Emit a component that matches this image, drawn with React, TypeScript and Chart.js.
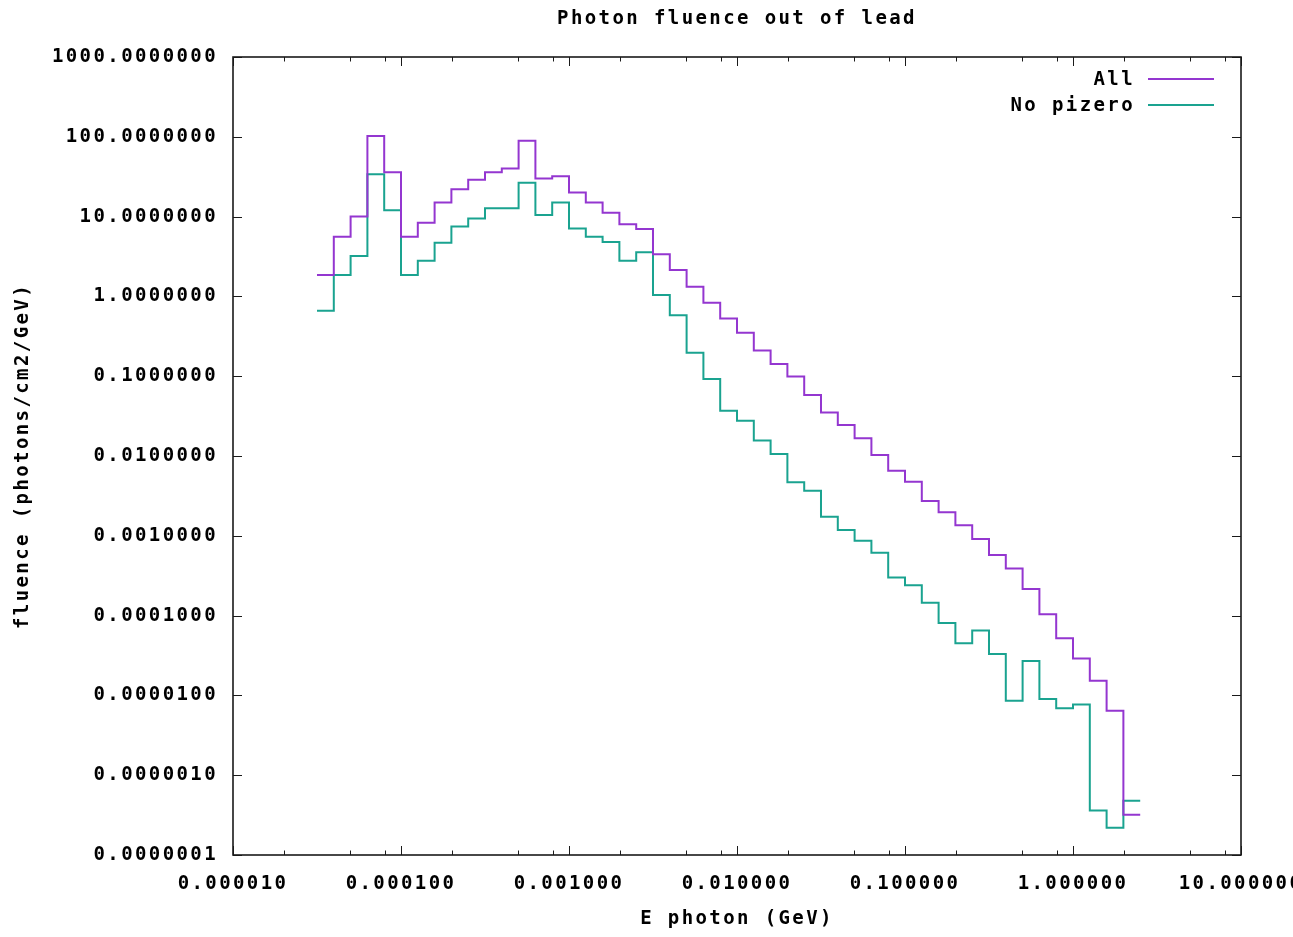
import React, { useEffect, useRef } from 'react';
import { Chart, registerables } from 'chart.js';

Chart.register(...registerables);

// Lower bin edges (GeV), 10 bins per decade; last entry is the upper edge of the last bin
const binEdges = [
  3.162e-5, 3.981e-5, 5.012e-5, 6.31e-5, 7.943e-5, 1.0e-4, 1.259e-4, 1.585e-4, 1.995e-4, 2.512e-4,
  3.162e-4, 3.981e-4, 5.012e-4, 6.31e-4, 7.943e-4, 1.0e-3, 1.259e-3, 1.585e-3, 1.995e-3, 2.512e-3,
  3.162e-3, 3.981e-3, 5.012e-3, 6.31e-3, 7.943e-3, 1.0e-2, 1.259e-2, 1.585e-2, 1.995e-2, 2.512e-2,
  3.162e-2, 3.981e-2, 5.012e-2, 6.31e-2, 7.943e-2, 0.1, 0.1259, 0.1585, 0.1995, 0.2512,
  0.3162, 0.3981, 0.5012, 0.631, 0.7943, 1.0, 1.259, 1.585, 1.995, 2.512,
];

// "All" fluence per bin
const allValues = [
  1.85, 5.6, 10, 102, 36, 5.6, 8.4, 15, 22, 29,
  36, 40, 89, 30, 32, 20, 15, 11.2, 8.0, 7.0,
  3.37, 2.14, 1.32, 0.83, 0.53, 0.35, 0.21, 0.142, 0.099, 0.058,
  0.035, 0.0244, 0.0167, 0.0103, 0.00655, 0.00476, 0.00273, 0.00197, 0.00136, 0.00091,
  0.000574, 0.00039, 0.000215, 0.000104, 5.2e-5, 2.9e-5, 1.53e-5, 6.4e-6, 3.2e-7,
];

// "No pizero" fluence per bin
const noPizeroValues = [
  0.66, 1.85, 3.2, 34, 12, 1.85, 2.8, 4.7, 7.5, 9.5,
  12.7, 12.7, 26.6, 10.5, 15, 7.1, 5.6, 4.8, 2.8, 3.57,
  1.04, 0.58, 0.197, 0.092, 0.037, 0.0277, 0.0156, 0.0106, 0.0047, 0.00367,
  0.00173, 0.00118, 0.00087, 0.000614, 0.0003, 0.00024, 0.000145, 8.1e-5, 4.5e-5, 6.5e-5,
  3.3e-5, 8.6e-6, 2.7e-5, 9.0e-6, 6.9e-6, 7.7e-6, 3.6e-7, 2.2e-7, 4.8e-7,
];

const xMajorTicks = [1e-5, 1e-4, 1e-3, 1e-2, 1e-1, 1, 10];
const xMinorTicks = [
  2e-5, 5e-5, 8e-5, 2e-4, 5e-4, 8e-4, 2e-3, 5e-3, 8e-3,
  2e-2, 5e-2, 8e-2, 0.2, 0.5, 0.8, 2, 5, 8,
];
const yMajorTicks = [1e-7, 1e-6, 1e-5, 1e-4, 1e-3, 1e-2, 1e-1, 1, 10, 100, 1000];

const seriesNames = ['All', 'No pizero'];
const PURPLE = '#9436d0';
const TEAL = '#1aa390';
const FONT = { family: "'DejaVu Sans Mono', monospace", size: 19, weight: 'bold' as const };

function toSteps(values: number[]) {
  const pts = values.map((v, i) => ({ x: binEdges[i], y: v }));
  pts.push({ x: binEdges[values.length], y: values[values.length - 1] });
  return pts;
}

const framePlugin = {
  id: 'gnuFrame',
  beforeDraw(chart: any) {
    chart.ctx.letterSpacing = '2.4px';
  },
  afterDatasetsDraw(chart: any) {
    const { ctx, chartArea: a, scales } = chart;
    ctx.save();
    ctx.strokeStyle = '#1a1a1a';
    ctx.lineWidth = 1;
    const MAJ = 9;
    const MIN = 4.5;
    ctx.beginPath();
    xMajorTicks.forEach((v) => {
      const px = Math.round(scales.x.getPixelForValue(v)) + 0.5;
      ctx.moveTo(px, a.bottom);
      ctx.lineTo(px, a.bottom - MAJ);
      ctx.moveTo(px, a.top);
      ctx.lineTo(px, a.top + MAJ);
    });
    xMinorTicks.forEach((v) => {
      const px = Math.round(scales.x.getPixelForValue(v)) + 0.5;
      ctx.moveTo(px, a.bottom);
      ctx.lineTo(px, a.bottom - MIN);
      ctx.moveTo(px, a.top);
      ctx.lineTo(px, a.top + MIN);
    });
    yMajorTicks.forEach((v) => {
      const py = Math.round(scales.y.getPixelForValue(v)) + 0.5;
      ctx.moveTo(a.left, py);
      ctx.lineTo(a.left + MAJ, py);
      ctx.moveTo(a.right, py);
      ctx.lineTo(a.right - MAJ, py);
    });
    ctx.stroke();
    ctx.lineWidth = 1.6;
    ctx.strokeRect(a.left, a.top, a.right - a.left, a.bottom - a.top);

    // key (gnuplot style: text right-aligned, sample line on the right)
    ctx.font = `bold ${FONT.size}px ${FONT.family}`;
    ctx.fillStyle = '#000';
    ctx.textAlign = 'right';
    ctx.textBaseline = 'middle';
    const colors = [PURPLE, TEAL];
    seriesNames.forEach((name, i) => {
      const y = a.top + 22 + i * 26;
      ctx.fillText(name, a.right - 106, y + 1);
      ctx.strokeStyle = colors[i];
      ctx.lineWidth = 2;
      ctx.beginPath();
      ctx.moveTo(a.right - 93, y);
      ctx.lineTo(a.right - 27, y);
      ctx.stroke();
    });
    ctx.restore();
  },
};

export default function App() {
  const ref = useRef<HTMLCanvasElement>(null);

  useEffect(() => {
    document.body.style.margin = '0';
    const canvas = ref.current;
    if (!canvas) return;
    const chart = new Chart(canvas, {
      type: 'line',
      data: {
        datasets: [
          {
            label: seriesNames[0],
            data: toSteps(allValues),
            borderColor: PURPLE,
            borderWidth: 2,
            pointRadius: 0,
            stepped: true,
            fill: false,
          },
          {
            label: seriesNames[1],
            data: toSteps(noPizeroValues),
            borderColor: TEAL,
            borderWidth: 2,
            pointRadius: 0,
            stepped: true,
            fill: false,
          },
        ],
      },
      options: {
        responsive: false,
        animation: false,
        devicePixelRatio: 1,
        layout: { padding: { top: 0, right: 52, left: 0, bottom: 0 } },
        plugins: {
          legend: { display: false },
          tooltip: { enabled: false },
          title: {
            display: true,
            text: 'Photon fluence out of lead',
            fullSize: false,
            font: FONT,
            color: '#000',
            padding: { top: 8, bottom: 26.2 },
          },
        },
        scales: {
          x: {
            type: 'logarithmic',
            min: 1e-5,
            max: 10,
            grid: { display: false, drawTicks: false },
            border: { display: false },
            afterBuildTicks: (s: any) => {
              s.ticks = xMajorTicks.map((v) => ({ value: v }));
            },
            afterFit: (s: any) => {
              s.height = 82;
              s.paddingLeft = 0;
              s.paddingRight = 0;
            },
            ticks: {
              autoSkip: false,
              maxRotation: 0,
              minRotation: 0,
              padding: 18,
              font: FONT,
              color: '#000',
              callback: (v: any) => Number(v).toFixed(6),
            },
            title: {
              display: true,
              text: 'E photon (GeV)',
              font: FONT,
              color: '#000',
              padding: { top: 0, bottom: 7 },
            },
          },
          y: {
            type: 'logarithmic',
            min: 1e-7,
            max: 1000,
            grid: { display: false, drawTicks: false },
            border: { display: false },
            afterBuildTicks: (s: any) => {
              s.ticks = yMajorTicks.map((v) => ({ value: v }));
            },
            afterFit: (s: any) => {
              s.width = 233;
              s.paddingTop = 0;
              s.paddingBottom = 0;
            },
            ticks: {
              autoSkip: false,
              padding: 15,
              font: FONT,
              color: '#000',
              callback: (v: any) => Number(v).toFixed(7),
            },
            title: {
              display: true,
              text: 'fluence (photons/cm2/GeV)',
              font: FONT,
              color: '#000',
              padding: { top: 12, bottom: 0 },
            },
          },
        },
      },
      plugins: [framePlugin],
    });
    return () => chart.destroy();
  }, []);

  return (
    <div style={{ width: 1293, height: 937 }}>
      <canvas ref={ref} width={1293} height={937} style={{ display: 'block' }} />
    </div>
  );
}
